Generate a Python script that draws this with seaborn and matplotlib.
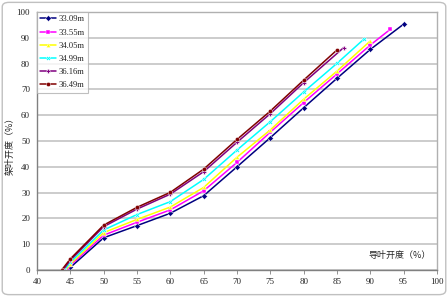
import pandas as pd
import numpy as np
import matplotlib.pyplot as plt
import seaborn as sns
from matplotlib.patches import FancyBboxPatch

# head levels
labels = ["33.09m", "33.55m", "34.05m", "34.99m", "36.16m", "36.49m"]

# guide vane opening (x) and blade opening (y)
x_3309 = [44.7, 45, 50, 55, 60, 65, 70, 75, 80, 85, 90, 95]
y_3309 = [0, 1.0, 12.5, 17.2, 22.0, 28.8, 40.0, 51.3, 62.9, 74.3, 85.5, 95.3]
x_3355 = [44.5, 45, 50, 55, 60, 65, 70, 75, 80, 85, 90, 93]
y_3355 = [0, 1.8, 13.5, 18.5, 23.3, 30.7, 41.7, 53.4, 64.9, 76.0, 87.2, 93.3]
x_3405 = [44.3, 45, 50, 55, 60, 65, 70, 75, 80, 85, 90]
y_3405 = [0, 2.3, 14.5, 19.6, 24.4, 32.0, 43.7, 54.3, 66.2, 77.1, 88.8]
x_3499 = [44.1, 45, 50, 55, 60, 65, 70, 75, 80, 85, 89]
y_3499 = [0, 3.0, 15.5, 21.5, 26.5, 35.1, 46.5, 57.5, 69.0, 80.1, 89.4]
x_3616 = [43.9, 45, 50, 55, 60, 65, 70, 75, 80, 86]
y_3616 = [0, 3.8, 16.8, 23.6, 29.4, 38.1, 49.5, 60.6, 72.6, 86.2]
x_3649 = [43.7, 45, 50, 55, 60, 65, 70, 75, 80, 85]
y_3649 = [0, 4.3, 17.4, 24.3, 30.1, 39.1, 50.6, 61.6, 73.6, 85.3]

xs = [x_3309, x_3355, x_3405, x_3499, x_3616, x_3649]
ys = [y_3309, y_3355, y_3405, y_3499, y_3616, y_3649]

df = pd.concat([pd.DataFrame({"x": x, "y": y, "head": lab})
                for x, y, lab in zip(xs, ys, labels)], ignore_index=True)

colors = ["#000080", "#FF00FF", "#FFFF00", "#00FFFF", "#800080", "#800000"]
markers = ["D", "s", "^", "X", "P", "o"]

sns.set_theme(style="white")
plt.rcParams["font.family"] = ["Liberation Serif", "Noto Sans CJK SC"]
plt.rcParams["font.size"] = 6.5

fig = plt.figure(figsize=(4.48, 2.97), dpi=100)
ax = fig.add_axes([37/448, 1-270/297, 400/448, 258/297])

sns.lineplot(data=df, x="x", y="y", hue="head", style="head", sort=False,
             palette=colors, markers=markers, dashes=False, markersize=3,
             linewidth=1.1, markeredgewidth=0.3, ax=ax)

ax.set_xlim(40, 100)
ax.set_ylim(0, 100)
ax.set_xticks(np.arange(40, 101, 5))
ax.set_yticks(np.arange(0, 101, 10))
ax.yaxis.grid(True, color="#c8c8c8", linewidth=1.3)
ax.set_axisbelow(True)
ax.tick_params(axis="x", direction="out", length=3, width=0.6, color="#808080",
               labelsize=6.5, pad=3, bottom=True)
ax.tick_params(axis="y", length=0, labelsize=6.5, pad=5)
for s in ["top", "right"]:
    ax.spines[s].set_color("#b0b0b0")
    ax.spines[s].set_linewidth(1.0)
for s in ["left", "bottom"]:
    ax.spines[s].set_color("#808080")
    ax.spines[s].set_linewidth(1.0)

ax.set_xlabel("")
ax.set_ylabel("架叶开度（%）", fontsize=6.5,
              family=["Noto Sans CJK SC", "DejaVu Sans"])
ax.yaxis.set_label_coords(-0.055, 0.49)
ax.text(0.985, 0.04, "导叶开度（%）", transform=ax.transAxes, ha="right",
        va="bottom", fontsize=6.5, family=["Noto Sans CJK SC", "DejaVu Sans"])

leg = ax.legend(loc="upper left", bbox_to_anchor=(0.0, 1.0), frameon=True,
                fontsize=6.2, handlelength=1.8, handletextpad=0.3,
                labelspacing=0.6, borderpad=0.4, fancybox=False,
                borderaxespad=0.0)
leg.get_frame().set_edgecolor("#b0b0b0")
leg.get_frame().set_linewidth(0.8)

fig.patches.append(FancyBboxPatch((0.005, 0.008), 0.99, 0.984,
                                  boxstyle="round,pad=0,rounding_size=0.015",
                                  transform=fig.transFigure, fill=False,
                                  edgecolor="#c0c0c0", linewidth=1.0))

plt.savefig("out.png", dpi=100)
plt.close()
